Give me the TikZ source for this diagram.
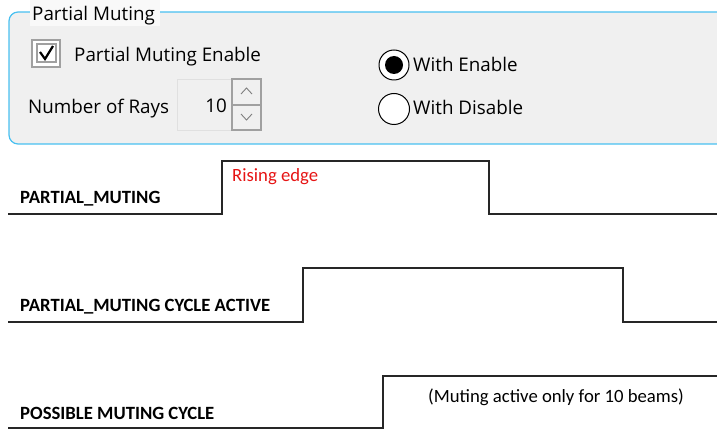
\documentclass[tikz,border=0pt]{standalone}
\usepackage{fontspec}
\setmainfont{Carlito}
\newfontfamily\guifont{Open Sans}
\usetikzlibrary{positioning}
\definecolor{panelblue}{RGB}{72,192,240}
\definecolor{panelgray}{RGB}{240,240,240}
\definecolor{ctrlgray}{RGB}{160,160,160}
\definecolor{edgered}{RGB}{230,20,20}
\tikzset{
  gui/.style={font=\guifont\fontsize{18.8}{22}\selectfont, inner sep=0pt, anchor=base west},
  sig/.style={font=\bfseries\fontsize{18.7}{22}\selectfont, inner sep=0pt, anchor=base west},
  note/.style={font=\fontsize{18.7}{22}\selectfont, inner sep=0pt, anchor=base west},
  wave/.style={line width=1.3pt, black!85},
}

\begin{document}
\begin{tikzpicture}[x=1pt,y=-1pt]
\useasboundingbox (0,0) rectangle (717,430);
% settings panel
\draw[panelblue, line width=1.2pt, fill=panelgray, rounded corners=9pt] (9,12) rectangle (740,144);
\fill[white!60!panelgray] (30,0) rectangle (160,26);
\node[gui] (title) at (32,21) {Partial Muting};
% check box
\draw[ctrlgray, line width=1.3pt, fill=white] (32,40) rectangle (60,67);
\draw[ctrlgray, line width=1.1pt] (37,44) rectangle (56,62);
\draw[line width=2.2pt] (40,52) -- (45,59) -- (53,46);
\node[gui] (enable) at (74,62) {Partial Muting Enable};
% number of rays
\node[gui] (rays) at (28,114) {Number of Rays};
\draw[black!12, fill=panelgray] (177,79) rectangle (232,130);
\node[gui, anchor=base east] (raysval) at (227,113) {10};
\draw[ctrlgray, line width=1.1pt] (232,79) rectangle (261,105);
\draw[ctrlgray, line width=1.1pt] (232,105) rectangle (261,130);
\draw[black!50, line width=0.9pt] (241,94) -- (246.5,88) -- (252,94);
\draw[black!50, line width=0.9pt] (241,114) -- (246.5,120) -- (252,114);
% radio buttons
\draw[line width=1pt, fill=white] (394,65) circle (15);
\fill (394,65) circle (9);
\node[gui] (withen) at (413,72) {With Enable};
\draw[line width=1pt, fill=white] (394,109) circle (15.5);
\node[gui] (withdis) at (413,115) {With Disable};
% timing signals
\draw[wave] (8,214) -- (222,214) -- (222,161) -- (489,161) -- (489,214) -- (717,214);
\node[sig] (pm) at (20,204) {PARTIAL\_MUTING};
\node[note, text=edgered] (rise) at (232,182) {Rising edge};
\draw[wave] (8,322) -- (303,322) -- (303,268) -- (623,268) -- (623,322) -- (717,322);
\node[sig] (pmc) at (20,311) {PARTIAL\_MUTING CYCLE ACTIVE};
\draw[wave] (8,428) -- (383,428) -- (383,376) -- (717,376);
\node[sig] (pmcyc) at (20,419) {POSSIBLE MUTING CYCLE};
\node[note] (beams) at (428,402) {(Muting active only for 10 beams)};
\end{tikzpicture}
\end{document}
